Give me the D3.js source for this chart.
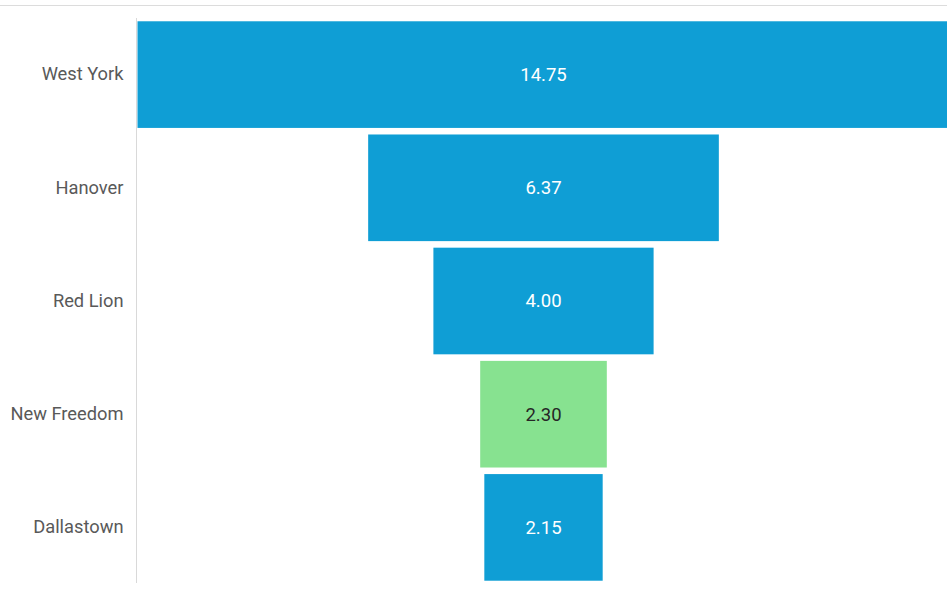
<!DOCTYPE html>
<html lang="en">
<head>
    <meta charset="UTF-8">
    <title>Funnel</title>
    <script src="https://d3js.org/d3.v7.min.js"></script>
    <style>
        body { margin: 0; background: #fff; }
        text { font-family: Roboto, "Open Sans", sans-serif; }
    </style>
</head>
<body>
    <div id="chart"></div>
    <script>
        // Data
        const towns = ["West York", "Hanover", "Red Lion", "New Freedom", "Dallastown"];
        const values = [14.75, 6.37, 4.00, 2.30, 2.15];
        const highlight = ["New Freedom"];

        const width = 947;
        const height = 592;
        const axisX = 136.5;
        const centerX = 543.5;

        const svg = d3.select("#chart")
            .append("svg")
            .attr("width", width)
            .attr("height", height);

        // top border line
        svg.append("line")
            .attr("x1", 0).attr("x2", width)
            .attr("y1", 5.5).attr("y2", 5.5)
            .attr("stroke", "#dcdcdc")
            .attr("stroke-width", 1);

        const y = d3.scaleBand()
            .domain(towns)
            .range([18, 584])
            .paddingInner(0.058)
            .paddingOuter(0.029);

        const w = d3.scaleLinear()
            .domain([0, d3.max(values)])
            .range([0, 812]);

        const data = towns.map((t, i) => ({ town: t, value: values[i] }));

        const g = svg.append("g");

        g.selectAll("rect")
            .data(data)
            .enter().append("rect")
            .attr("x", d => centerX - w(d.value) / 2)
            .attr("y", d => y(d.town))
            .attr("width", d => w(d.value))
            .attr("height", y.bandwidth())
            .attr("fill", d => highlight.includes(d.town) ? "#87e290" : "#0f9ed5");

        g.selectAll(".val")
            .data(data)
            .enter().append("text")
            .attr("class", "val")
            .attr("x", centerX)
            .attr("y", d => y(d.town) + y.bandwidth() / 2)
            .attr("dy", "0.35em")
            .attr("text-anchor", "middle")
            .attr("font-size", 18.5)
            .attr("fill", d => highlight.includes(d.town) ? "#262626" : "#fff")
            .text(d => d.value.toFixed(2));

        // category axis
        const axis = svg.append("g")
            .attr("transform", `translate(${axisX},0)`)
            .call(d3.axisLeft(y).tickSize(0).tickPadding(13));

        axis.select(".domain")
            .attr("d", `M0,18V583`)
            .attr("stroke", "#d9d9d9");

        axis.selectAll("text")
            .attr("font-family", "Roboto, sans-serif")
            .attr("font-size", 18.3)
            .attr("fill", "#595959");
    </script>
</body>
</html>
